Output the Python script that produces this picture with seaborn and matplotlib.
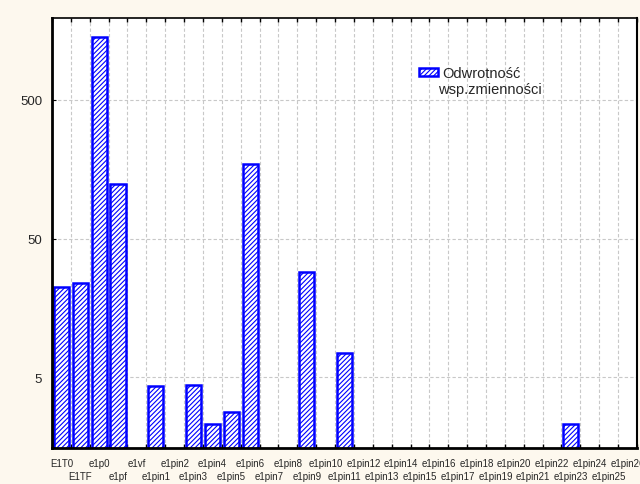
import numpy as np
import pandas as pd
import matplotlib
matplotlib.use("Agg")
import matplotlib.pyplot as plt
import seaborn as sns


# =========================
# DATA
# =========================

CATEGORIES = ["E1T0", "E1TF", "e1p0", "e1pf", "e1vf"] + [f"e1pin{i}" for i in range(1, 27)]

# inverse coefficient of variation, NaN = no bar
VALUES = [22.3, 24.0, 1430, 123, np.nan,
          4.3, np.nan, 4.4, 2.29, 2.8, 172, np.nan, np.nan, 28.8, np.nan,
          7.5, np.nan, np.nan, np.nan, np.nan, np.nan, np.nan, np.nan, np.nan, np.nan,
          np.nan, np.nan, 2.3, np.nan, np.nan, np.nan]

Y_TICKS = [5, 50, 500]
LEGEND_LINE1 = "Odwrotność"
LEGEND_LINE2 = "wsp.zmienności"

BG = "#fdf8ee"
BLUE = "#0000ff"


# =========================
# PLOT
# =========================

sns.set_style("white")
plt.rcParams["font.family"] = ["Liberation Sans", "DejaVu Sans"]
plt.rcParams["hatch.linewidth"] = 0.8

df = pd.DataFrame({"cat": CATEGORIES, "val": VALUES})

fig = plt.figure(figsize=(6.4, 4.85), dpi=100, facecolor=BG)
ax = fig.add_axes([0.08125, 0.0742, 0.914, 0.8866])
ax.set_facecolor("white")

sns.barplot(
    data=df, x="cat", y="val", order=CATEGORIES,
    color="white", saturation=1, edgecolor=BLUE, linewidth=1.8,
    hatch="///////", width=0.8, errorbar=None, ax=ax,
    label=LEGEND_LINE1,
)

ax.set_yscale("log")
ax.set_ylim(1.545, 1950)
ax.set_xlim(-0.5, len(CATEGORIES) - 0.5)
ax.set_yticks(Y_TICKS)
ax.set_yticklabels([str(t) for t in Y_TICKS], fontsize=9.5)
ax.yaxis.set_minor_locator(matplotlib.ticker.NullLocator())

# staggered category labels
labels = [c if i % 2 == 0 else "\n" + c for i, c in enumerate(CATEGORIES)]
ax.set_xticks(range(len(CATEGORIES)))
ax.set_xticklabels(labels, fontsize=7, linespacing=1.3)
ax.tick_params(axis="x", which="major", length=0, pad=7.5)
ax.set_xticks(np.arange(len(CATEGORIES) + 1) - 0.5, minor=True)
ax.tick_params(axis="x", which="minor", direction="in", length=3,
               top=True, bottom=True, color="black", width=1)
ax.tick_params(axis="y", direction="in", length=3, left=True, color="black", pad=7)

ax.grid(True, axis="x", which="minor", color="#c8c8c8", linestyle=(0, (3, 2)), linewidth=0.8)
ax.grid(True, axis="y", which="major", color="#c8c8c8", linestyle=(0, (3, 2)), linewidth=0.8)
ax.set_axisbelow(True)

for side in ["left", "bottom", "top", "right"]:
    ax.spines[side].set_visible(True)
    ax.spines[side].set_color("black")
ax.spines["left"].set_linewidth(2)
ax.spines["bottom"].set_linewidth(2)
ax.spines["top"].set_linewidth(1.2)
ax.spines["right"].set_linewidth(1.5)

ax.set_xlabel("")
ax.set_ylabel("")

ax.legend(
    loc="center left", bbox_to_anchor=(0.627, 0.872), frameon=False,
    fontsize=10.5, handlelength=1.3, handleheight=0.55, handletextpad=0.3,
    borderpad=0, borderaxespad=0,
)
ax.text(0.66, 0.835, LEGEND_LINE2, transform=ax.transAxes,
        fontsize=10.5, ha="left", va="center")

fig.savefig("out.png", dpi=100, facecolor=BG)
